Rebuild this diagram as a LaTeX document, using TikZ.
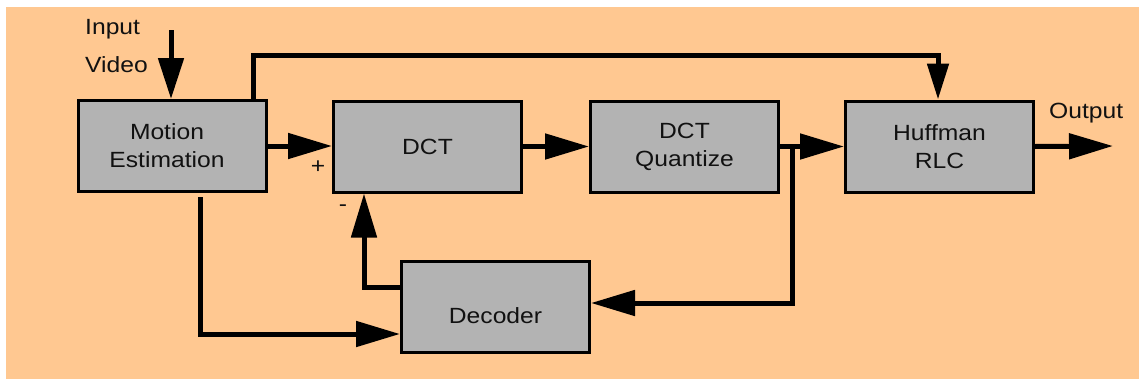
\documentclass[tikz,border=0pt]{standalone}
\usepackage{fontspec}
\setmainfont{Liberation Sans}[FakeStretch=1.12]
\usetikzlibrary{arrows.meta}
\definecolor{bg}{HTML}{FFC891}
\definecolor{boxgray}{HTML}{B3B3B3}
\definecolor{ink}{HTML}{111111}
\begin{document}
\begin{tikzpicture}[x=1pt,y=-1pt,
  blk/.style={draw, line width=3pt, fill=boxgray, minimum width=188pt, minimum height=91pt, inner sep=0pt, align=center, text=ink, font=\fontsize{22}{28}\selectfont},
  conn/.style={line width=5pt, -{Triangle[length=44pt,width=25pt]}},
  connin/.style={line width=5pt, -{Triangle[length=41pt,width=25pt]}},
  connsm/.style={line width=5pt, -{Triangle[length=36pt,width=21pt]}},
  lbl/.style={font=\fontsize{22}{28}\selectfont, inner sep=0pt, text=ink}]
\useasboundingbox (0,0) rectangle (1139,380);
\fill[bg] (6,7) rectangle (1139,379);

% blocks
\node[blk] (me) at (172,146) {\hspace*{-10pt}Motion\\\hspace*{-10pt}Estimation};
\node[blk] (dct) at (427.5,146.5) {DCT};
\node[blk] (q) at (684.5,146.5) {DCT\\Quantize};
\node[blk] (huf) at (939.5,146.5) {Huffman\\RLC};
\node[blk] (dec) at (495.5,307) {};
\node[lbl] (decl) at (495.5,316) {Decoder};

% labels
\node[lbl, anchor=west] (lin) at (85,29) {Input};
\node[lbl, anchor=west] (lvid) at (85,65) {Video};
\node[lbl] (lplus) at (318,167) {+};
\node[lbl] (lminus) at (343,208) {-};
\node[lbl, anchor=west] (lout) at (1049,113) {Output};

% coordinates
\coordinate (in) at (171,30);
\coordinate (t1) at (253,55);
\coordinate (t2) at (938,55);
\coordinate (b1) at (792,147);
\coordinate (b2) at (792,303);
\coordinate (d1) at (364,287);
\coordinate (m0) at (200,197);
\coordinate (m1) at (200,334);
\coordinate (o1) at (1113,146);

% connectors
\draw[connin] (in) -- (in |- me.north);
\draw[connsm] (t1 |- me.north) -- (t1) -- (t2) -- (t2 |- huf.north);
\draw[conn] (me.east) -- (me.east -| dct.west);
\draw[conn] (dct.east) -- (q.west);
\draw[conn] (q.east) -- (huf.west);
\draw[conn] (b1) -- (b2) -- (b2 -| dec.east);
\draw[conn] (d1 -| dec.west) -- (d1) -- (d1 |- dct.south);
\draw[conn] (m0) -- (m1) -- (m1 -| dec.west);
\draw[conn] (huf.east) -- (o1);
\end{tikzpicture}
\end{document}
